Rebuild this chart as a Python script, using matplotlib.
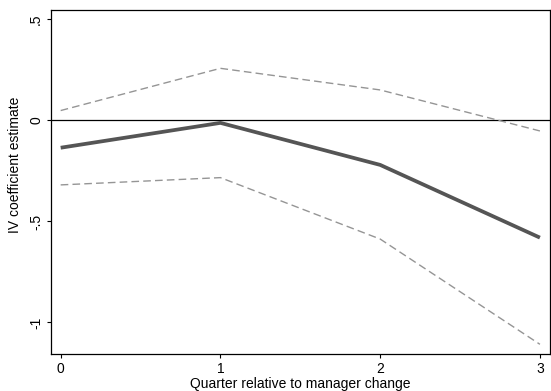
import numpy as np
import matplotlib
matplotlib.use("Agg")
import matplotlib.pyplot as plt

plt.rcParams['font.family'] = ['Liberation Sans', 'DejaVu Sans']

# quarter relative to manager change
quarters = [0, 1, 2, 3]
# IV coefficient estimates and 95% bounds
coef = [-0.135, -0.012, -0.22, -0.58]
upper = [0.049, 0.258, 0.151, -0.052]
lower = [-0.319, -0.283, -0.587, -1.108]

yticks = [-1, -0.5, 0, 0.5]
ytick_labels = ["-1", "-.5", "0", ".5"]

fig = plt.figure(figsize=(5.51, 3.91), dpi=100)
ax = fig.add_axes([0.092, 0.0946, 0.906, 0.88])

ax.axhline(0, color='black', lw=0.9, zorder=1)
ax.plot(quarters, upper, color='#959595', lw=1.0, ls=(0, (5.5, 3)))
ax.plot(quarters, lower, color='#959595', lw=1.0, ls=(0, (5.5, 3)))
ax.plot(quarters, coef, color='#555555', lw=2.7, solid_capstyle='butt')

ax.set_xlim(-0.0625, 3.0625)
ax.set_ylim(-1.156, 0.547)
ax.set_xticks(quarters)
ax.set_yticks(yticks)
ax.set_yticklabels(ytick_labels, rotation=90, va='center')
ax.tick_params(direction='out', length=3, width=0.8, labelsize=10, colors='black')
ax.tick_params(axis='x', pad=2.5)
ax.tick_params(axis='y', pad=2.5)
for s in ax.spines.values():
    s.set_linewidth(0.9)

ax.set_xlabel("Quarter relative to manager change", fontsize=10)
ax.set_ylabel("IV coefficient estimate", fontsize=10)
ax.xaxis.set_label_coords(0.5, -0.068)
ax.yaxis.set_label_coords(-0.0575, 0.55)

fig.savefig("out.png", dpi=100)
